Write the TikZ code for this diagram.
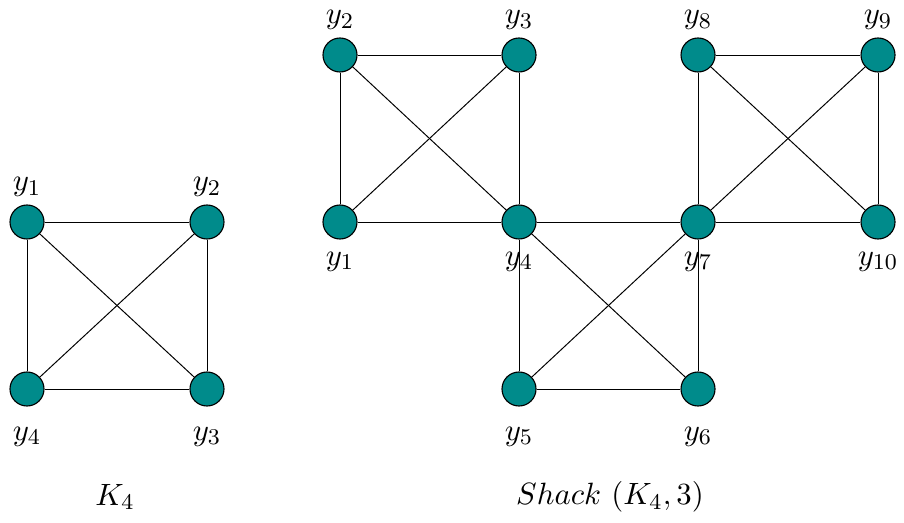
\documentclass[tikz,border=0pt]{standalone}
\usepackage{amsmath}
\usepackage{tikz}
\usepackage{xcolor}
\usetikzlibrary{positioning}
\definecolor{cTeal}{RGB}{0,139,139}
\tikzset{
	vtx/.style   ={circle, draw=black, fill=cTeal, minimum size=0.425cm, inner sep=0pt},
	lbltop/.style={label={[label distance=-0.03cm]above:#1}},
	lblmid/.style={label={[label distance=0.03cm]below:#1}},
	lblbot/.style={label={[label distance=0.13cm]below:#1}},
	gedge/.style ={draw=black, line width=0.35pt},
}
\begin{document}
\begin{tikzpicture}[font=\fontsize{11}{13}\selectfont]
	\useasboundingbox (0,0) rectangle (11.3,6.525);
	% complete graph K4
	\node[vtx, lbltop={$y_1$}] (k1) at (0.3375,3.75) {};
	\node[vtx, lbltop={$y_2$}] (k2) at (2.5875,3.75) {};
	\node[vtx, lblbot={$y_3$}] (k3) at (2.5875,1.6625) {};
	\node[vtx, lblbot={$y_4$}] (k4) at (0.3375,1.6625) {};
	\draw[gedge] (k1) -- (k2) -- (k3) -- (k4) -- (k1);
	\draw[gedge] (k1) -- (k3);
	\draw[gedge] (k2) -- (k4);
	\node (capK) at (1.4375,0.3125) {$K_4$};
	% shackle of three copies of K4
	\node[vtx, lblmid={$y_1$}] (s1) at (4.25,3.75) {};
	\node[vtx, lbltop={$y_2$}] (s2) at (4.25,5.8375) {};
	\node[vtx, lbltop={$y_3$}] (s3) at (6.4875,5.8375) {};
	\node[vtx, lblmid={$y_4$}] (s4) at (6.4875,3.75) {};
	\node[vtx, lblbot={$y_5$}] (s5) at (6.4875,1.6625) {};
	\node[vtx, lblbot={$y_6$}] (s6) at (8.725,1.6625) {};
	\node[vtx, lblmid={$y_7$}] (s7) at (8.725,3.75) {};
	\node[vtx, lbltop={$y_8$}] (s8) at (8.725,5.8375) {};
	\node[vtx, lbltop={$y_9$}] (s9) at (10.975,5.8375) {};
	\node[vtx, lblmid={$y_{10}$}] (s10) at (10.975,3.75) {};
	% first copy
	\draw[gedge] (s1) -- (s2) -- (s3) -- (s4) -- (s1);
	\draw[gedge] (s1) -- (s3);
	\draw[gedge] (s2) -- (s4);
	% second copy
	\draw[gedge] (s4) -- (s7) -- (s6) -- (s5) -- (s4);
	\draw[gedge] (s4) -- (s6);
	\draw[gedge] (s7) -- (s5);
	% third copy
	\draw[gedge] (s7) -- (s8) -- (s9) -- (s10) -- (s7);
	\draw[gedge] (s7) -- (s9);
	\draw[gedge] (s8) -- (s10);
	\node (capS) at (7.625,0.3125) {$Shack~(K_4, 3)$};
\end{tikzpicture}
\end{document}
